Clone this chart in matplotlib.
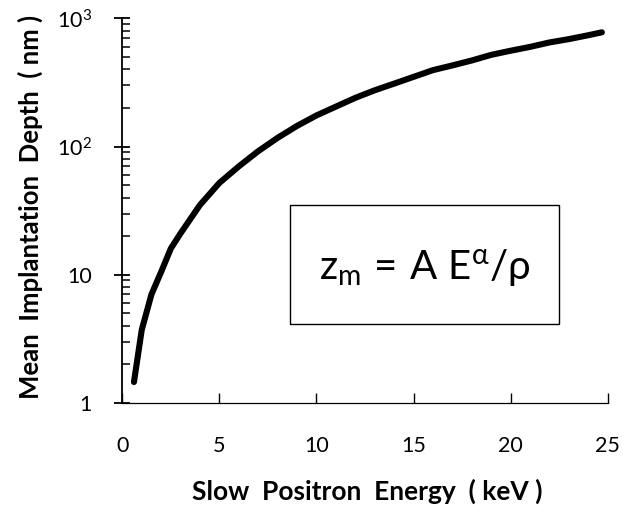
import numpy as np
import matplotlib
matplotlib.use("Agg")
import matplotlib.pyplot as plt
from matplotlib.patches import Rectangle
from matplotlib.ticker import FixedLocator, LogLocator, NullFormatter

plt.rcParams['font.family'] = ['Lato', 'DejaVu Sans']
plt.rcParams['mathtext.fontset'] = 'custom'
plt.rcParams['mathtext.rm'] = 'Lato'
plt.rcParams['mathtext.it'] = 'Lato'
plt.rcParams['mathtext.fallback'] = 'stixsans'

# energy (keV) and mean implantation depth (nm)
energy = [0.6, 1.0, 1.5, 2.0, 2.5, 3.0, 4.0, 5.0, 6.0, 7.0, 8.0, 9.0, 10.0,
          11.0, 12.0, 13.0, 14.0, 15.0, 16.0, 17.0, 18.0, 19.0, 20.0, 21.0,
          22.0, 23.0, 24.0, 24.7]
depth = [1.45, 3.7, 7.0, 10.5, 16.0, 21.0, 35.0, 52.0, 70.0, 92.0, 117.0,
         145.0, 175.0, 205.0, 240.0, 275.0, 310.0, 350.0, 395.0, 430.0,
         470.0, 520.0, 560.0, 600.0, 650.0, 690.0, 740.0, 780.0]

x_ticks = [0, 5, 10, 15, 20, 25]
y_ticks = [1, 10, 100, 1000]
y_ticklabels = ['1', '10', r'$\mathregular{10^2}$', r'$\mathregular{10^3}$']

fig = plt.figure(figsize=(6.25, 5.12), dpi=100)
ax = fig.add_axes([0.1957, 0.2135, 0.7766, 0.7504])

ax.plot(energy, depth, color='black', lw=4.4, solid_capstyle='round',
        solid_joinstyle='round')

ax.set_yscale('log')
ax.set_xlim(0, 25)
ax.set_ylim(1, 1000)

ax.xaxis.set_major_locator(FixedLocator(x_ticks))
ax.set_xticklabels([str(t) for t in x_ticks])
ax.yaxis.set_major_locator(FixedLocator(y_ticks))
ax.set_yticklabels(y_ticklabels)
ax.yaxis.set_minor_locator(LogLocator(base=10, subs=np.arange(2, 10)))
ax.yaxis.set_minor_formatter(NullFormatter())

ax.tick_params(axis='x', direction='in', length=7, width=1.0, pad=24,
               labelsize=15.5)
ax.tick_params(axis='y', which='major', direction='inout', length=12,
               width=1.3, pad=16, labelsize=15.5)
ax.tick_params(axis='y', which='minor', direction='in', length=6, width=1.1)

for s in ['top', 'right']:
    ax.spines[s].set_visible(False)
ax.spines['left'].set_linewidth(1.3)
ax.spines['bottom'].set_linewidth(0.9)

fig.text(0.588, 0.04, 'Slow  Positron  Energy  ( keV )', ha='center',
         va='center', fontsize=19, fontweight='bold')
fig.text(0.048, 0.596, 'Mean  Implantation  Depth  ( nm )', ha='center',
         va='center', rotation=90, fontsize=18.5, fontweight='bold')

box = Rectangle((0.464, 0.367), 0.43, 0.2324, transform=fig.transFigure,
                fill=False, edgecolor='black', lw=1.0)
fig.patches.append(box)
fig.text(0.68, 0.478, r'$\mathregular{z_m\,=\,A\ E^{\alpha}/\rho}$',
         ha='center', va='center', fontsize=29)

fig.savefig('out.png', dpi=100)
